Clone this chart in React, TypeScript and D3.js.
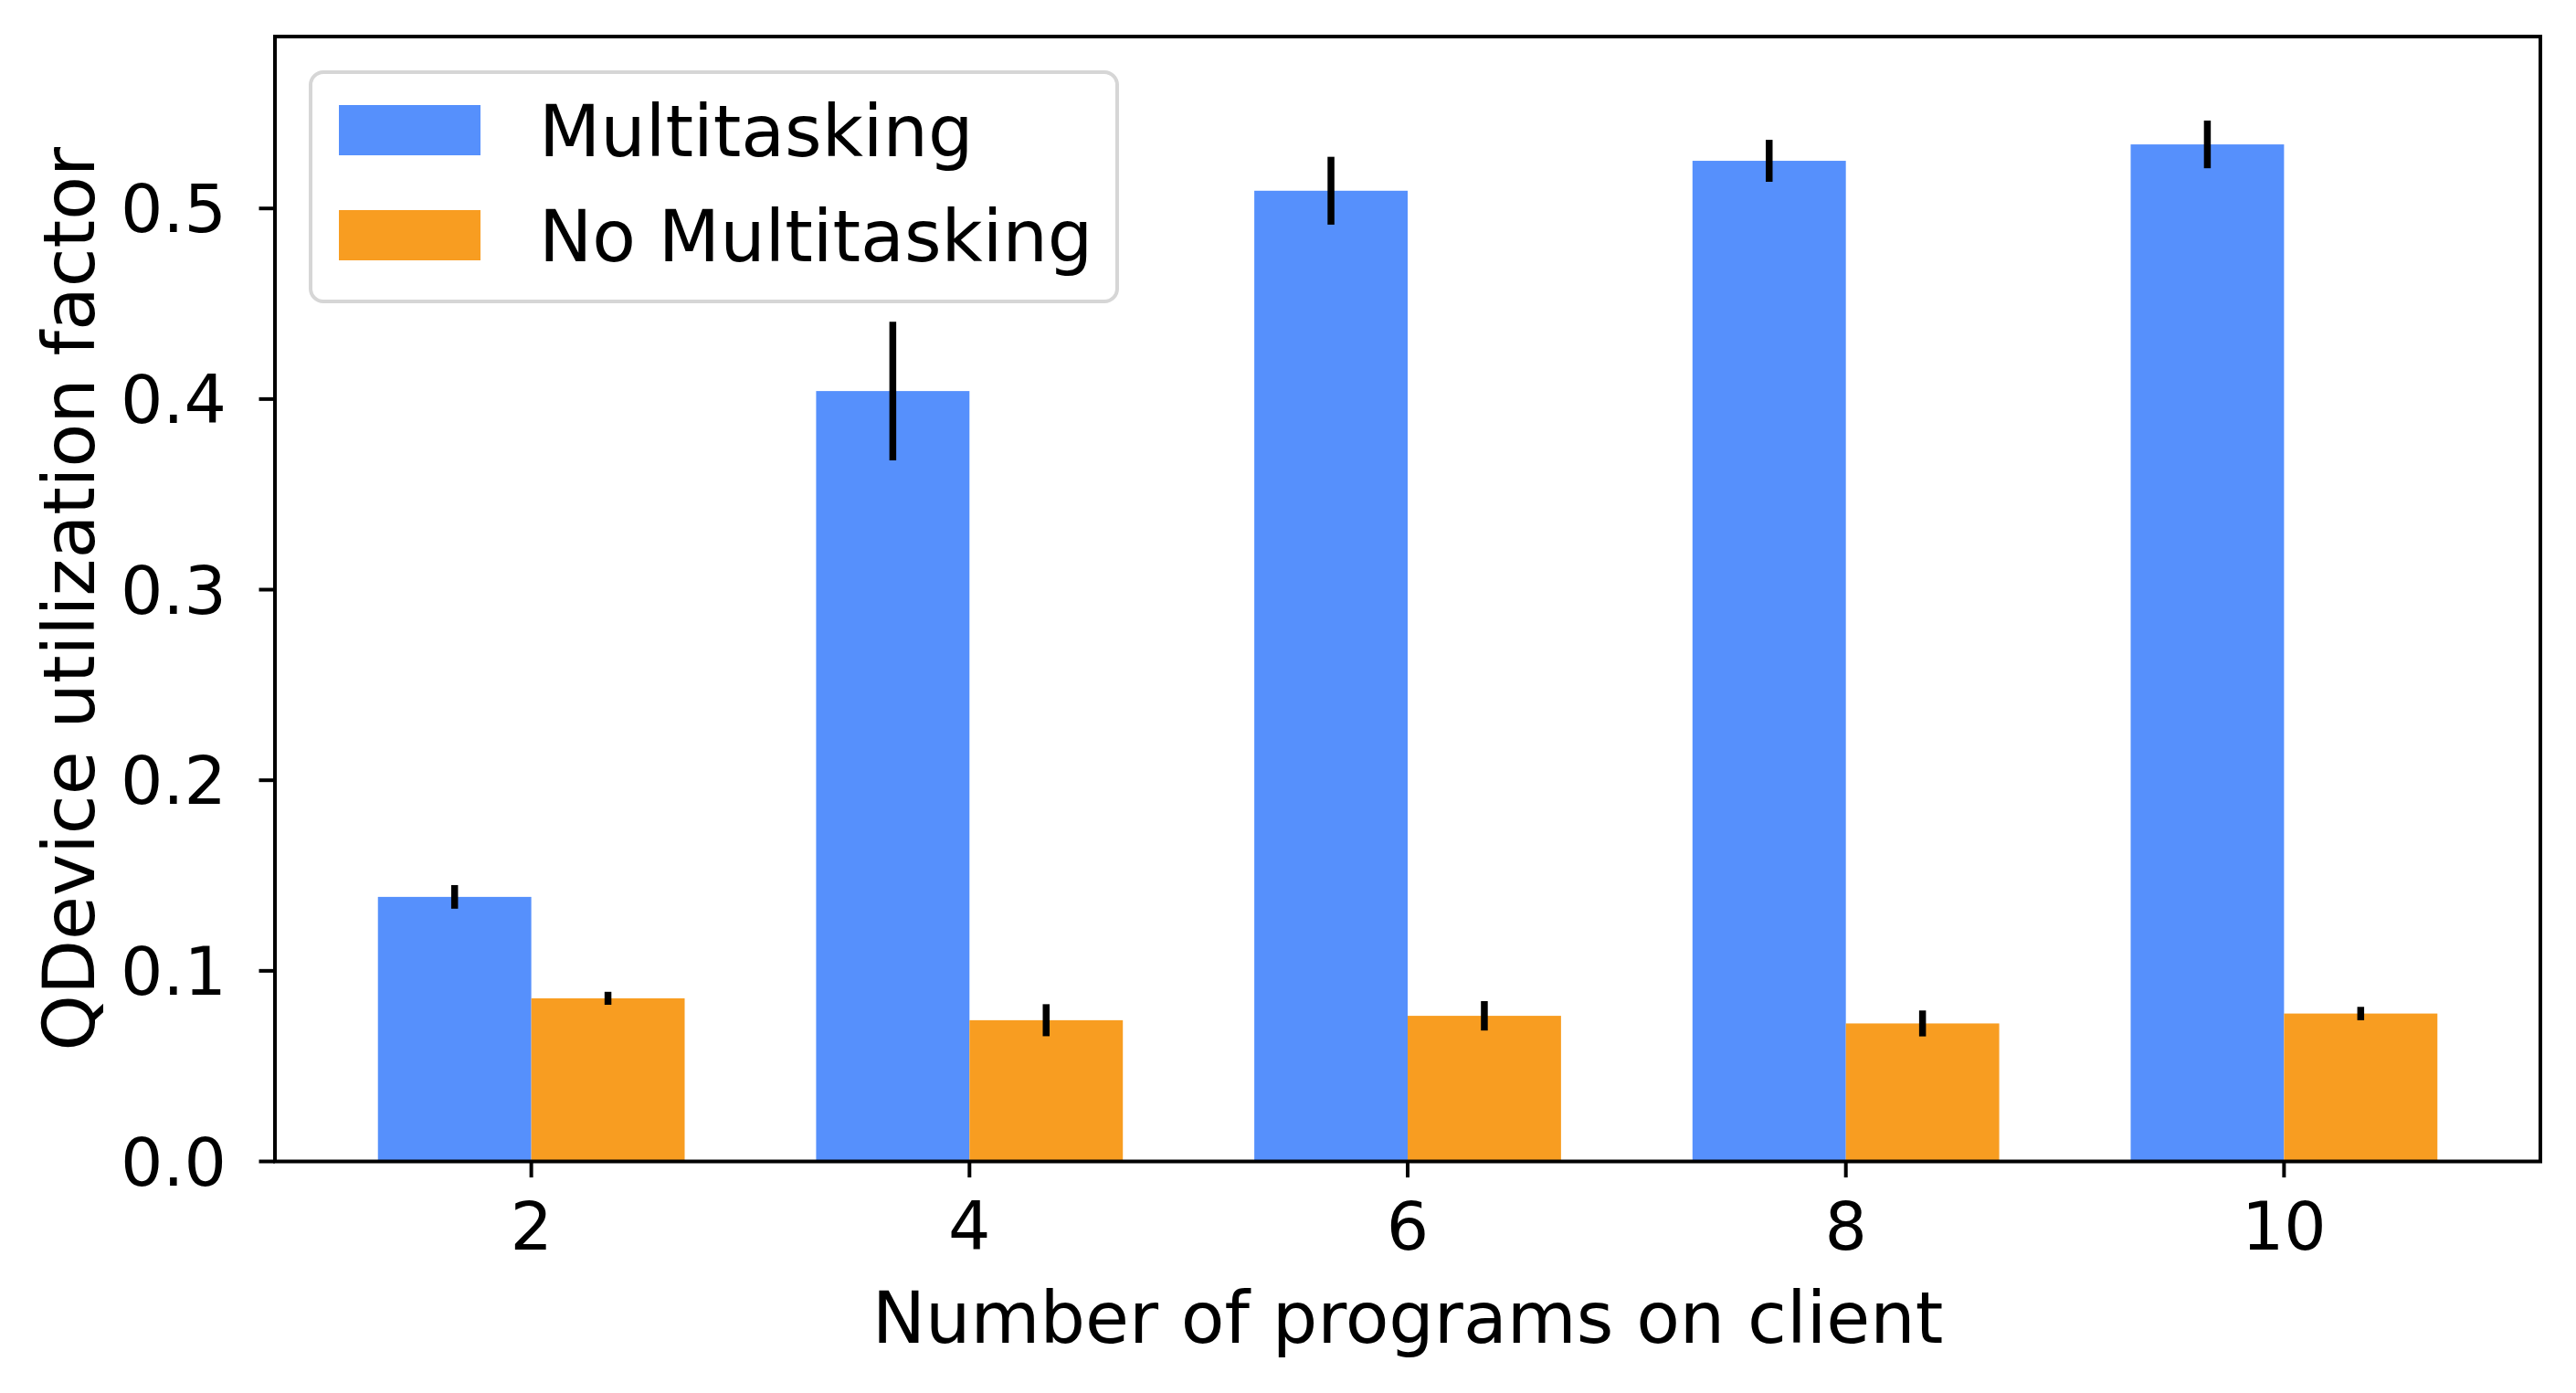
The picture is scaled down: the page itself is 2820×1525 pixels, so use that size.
import React from "react";
import * as d3 from "d3";

// programs on client
const programs = [2, 4, 6, 8, 10];
// Multitasking
const multiMean = [0.1388, 0.4042, 0.5093, 0.525, 0.5336];
const multiErr = [0.0062, 0.0364, 0.0178, 0.011, 0.0125];
// No Multitasking
const noMultiMean = [0.0856, 0.0741, 0.0764, 0.0724, 0.0776];
const noMultiErr = [0.0034, 0.0084, 0.0077, 0.0068, 0.0035];

const yTicks = [0, 0.1, 0.2, 0.3, 0.4, 0.5];

const W = 2820;
const H = 1525;
const AX = { left: 301, right: 2781, top: 40, bottom: 1271.5 };
const BAR_W = 0.7;
const BLUE = "#5690fc";
const ORANGE = "#f89d21";
const FONT = "DejaVu Sans, Verdana, sans-serif";

export default function App() {
  const x = d3.scaleLinear().domain([0.83, 11.17]).range([AX.left, AX.right]);
  const y = d3.scaleLinear().domain([0, 0.5902]).range([AX.bottom, AX.top]);
  const bw = x(BAR_W) - x(0);

  const series = [
    { name: "Multitasking", mean: multiMean, err: multiErr, color: BLUE, off: -BAR_W / 2 },
    { name: "No Multitasking", mean: noMultiMean, err: noMultiErr, color: ORANGE, off: BAR_W / 2 },
  ];

  return (
    <svg
      width={W}
      height={H}
      style={{ position: "absolute", left: 0, top: 0, background: "#fff" }}
      fontFamily={FONT}
    >
      <rect width={W} height={H} fill="#fff" />

      {/* bars */}
      {series.map((s) =>
        programs.map((p, i) => (
          <rect
            key={s.name + p}
            x={x(p + s.off) - bw / 2}
            y={y(s.mean[i])}
            width={bw}
            height={y(0) - y(s.mean[i])}
            fill={s.color}
          />
        ))
      )}

      {/* error bars */}
      {series.map((s) =>
        programs.map((p, i) => (
          <line
            key={"e" + s.name + p}
            x1={x(p + s.off)}
            x2={x(p + s.off)}
            y1={y(s.mean[i] - s.err[i])}
            y2={y(s.mean[i] + s.err[i])}
            stroke="#000"
            strokeWidth={7.5}
          />
        ))
      )}

      {/* frame */}
      <rect
        x={AX.left}
        y={AX.top}
        width={AX.right - AX.left}
        height={AX.bottom - AX.top}
        fill="none"
        stroke="#000"
        strokeWidth={4}
      />

      {/* y axis */}
      {yTicks.map((t) => (
        <g key={"y" + t}>
          <line x1={AX.left - 17.5} x2={AX.left} y1={y(t)} y2={y(t)} stroke="#000" strokeWidth={4} />
          <text x={AX.left - 53} y={y(t)} dy="0.36em" textAnchor="end" fontSize={73}>
            {t.toFixed(1)}
          </text>
        </g>
      ))}

      {/* x axis */}
      {programs.map((p) => (
        <g key={"x" + p}>
          <line x1={x(p)} x2={x(p)} y1={AX.bottom} y2={AX.bottom + 17.5} stroke="#000" strokeWidth={4} />
          <text x={x(p)} y={1368} textAnchor="middle" fontSize={73}>
            {p}
          </text>
        </g>
      ))}

      <text x={(AX.left + AX.right) / 2} y={1470} textAnchor="middle" fontSize={78}>
        Number of programs on client
      </text>
      <text
        transform={`translate(103,${(AX.top + AX.bottom) / 2}) rotate(-90)`}
        textAnchor="middle"
        fontSize={78}
      >
        QDevice utilization factor
      </text>

      {/* legend */}
      <rect x={340} y={79} width={883} height={251} rx={14} fill="#fff" fillOpacity={0.8} stroke="#d6d6d6" strokeWidth={4} />
      {series.map((s, i) => (
        <g key={"l" + s.name}>
          <rect x={371} y={115 + i * 115} width={155} height={55} fill={s.color} />
          <text x={590} y={142.5 + i * 115} dy="0.36em" fontSize={78}>
            {s.name}
          </text>
        </g>
      ))}
    </svg>
  );
}
